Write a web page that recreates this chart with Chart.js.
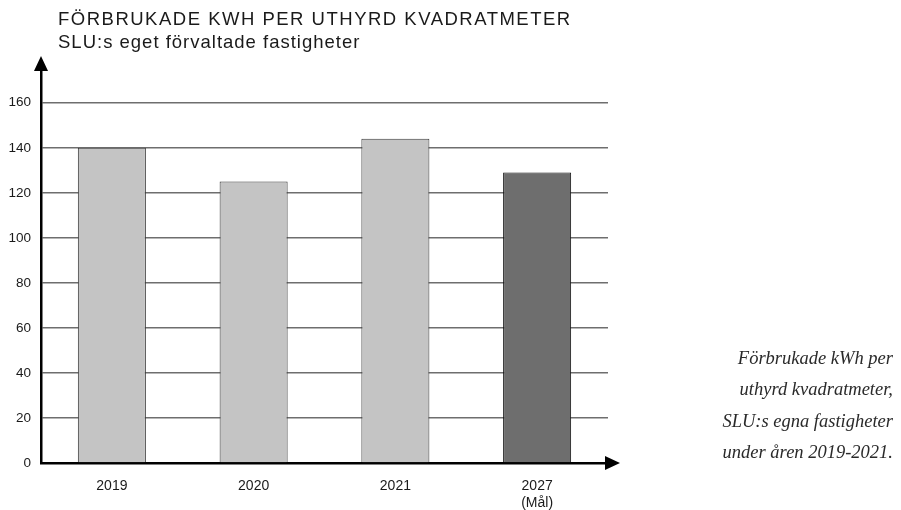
<!DOCTYPE html>
<html>
<head>
<meta charset="utf-8">
<script src="https://cdn.jsdelivr.net/npm/chart.js@4"></script>
<style>
    body { margin: 0; background: #fff; }
    #wrap { position: relative; width: 901px; height: 510px; }
    #chart { position: absolute; left: 0; top: 0; }
    .title { position: absolute; left: 58px; font-family: "Liberation Sans", Arial, sans-serif; font-size: 18.5px; color: #1a1a1a; white-space: nowrap; }
    #caption { position: absolute; right: 8px; top: 343px; width: 280px; text-align: right; font-family: "Liberation Serif", "DejaVu Serif", serif; font-style: italic; font-size: 18.5px; line-height: 31.3px; color: #2a2a2a; }
</style>
</head>
<body>
<div id="wrap">
    <canvas id="chart" width="901" height="510"></canvas>
    <div class="title" style="top: 8px; letter-spacing: 1.5px;">FÖRBRUKADE KWH PER UTHYRD KVADRATMETER</div>
    <div class="title" style="top: 31px; letter-spacing: 1px;">SLU:s eget förvaltade fastigheter</div>
    <div id="caption">Förbrukade kWh per<br>uthyrd kvadratmeter,<br>SLU:s egna fastigheter<br>under åren 2019-2021.</div>
</div>
<script>
const years = [['2019'], ['2020'], ['2021'], ['2027', '(Mål)']];
const kwhPerSqm = [140, 125, 144, 129];
const barColors = ['#c4c4c4', '#c4c4c4', '#c4c4c4', '#6e6e6e'];
const barBorders = ['#3a3a3a', '#3a3a3a', '#3a3a3a', '#111111'];

// arrow heads on both axes
const axisArrows = {
    id: 'axisArrows',
    afterDraw(chart) {
        const { ctx, chartArea } = chart;
        ctx.save();
        ctx.fillStyle = '#000';
        ctx.beginPath();
        ctx.moveTo(chartArea.left, chartArea.top - 13);
        ctx.lineTo(chartArea.left - 7, chartArea.top + 2);
        ctx.lineTo(chartArea.left + 7, chartArea.top + 2);
        ctx.closePath();
        ctx.fill();
        ctx.beginPath();
        ctx.moveTo(chartArea.right + 12, chartArea.bottom);
        ctx.lineTo(chartArea.right - 3, chartArea.bottom - 7);
        ctx.lineTo(chartArea.right - 3, chartArea.bottom + 7);
        ctx.closePath();
        ctx.fill();
        ctx.restore();
    }
};

new Chart(document.getElementById('chart').getContext('2d'), {
    type: 'bar',
    data: {
        labels: years,
        datasets: [{
            data: kwhPerSqm,
            backgroundColor: barColors,
            borderColor: barBorders,
            borderWidth: 1,
            borderSkipped: 'bottom',
            barPercentage: 0.48,
            categoryPercentage: 1
        }]
    },
    options: {
        responsive: false,
        animation: false,
        layout: { padding: { top: 69, right: 293, bottom: 0, left: 0 } },
        plugins: {
            legend: { display: false },
            tooltip: { enabled: false }
        },
        scales: {
            x: {
                grid: { display: false, drawTicks: false },
                border: { display: true, color: '#000', width: 2.5 },
                ticks: {
                    color: '#1a1a1a',
                    padding: 14,
                    font: { family: 'Liberation Sans, Arial, sans-serif', size: 14, lineHeight: 1.25 }
                },
                afterFit: s => { s.height = 47; }
            },
            y: {
                min: 0,
                max: 175,
                afterBuildTicks: s => { s.ticks = s.ticks.filter(t => t.value <= 160); },
                afterFit: s => { s.width = 41; },
                grid: {
                    drawTicks: false,
                    color: c => c.tick.value === 0 ? 'rgba(0,0,0,0)' : '#6e6e6e',
                    lineWidth: 1.5
                },
                border: { display: true, color: '#000', width: 2.5 },
                ticks: {
                    stepSize: 20,
                    color: '#1a1a1a',
                    padding: 10,
                    font: { family: 'Liberation Sans, Arial, sans-serif', size: 13.5 }
                }
            }
        }
    },
    plugins: [axisArrows]
});
</script>
</body>
</html>
